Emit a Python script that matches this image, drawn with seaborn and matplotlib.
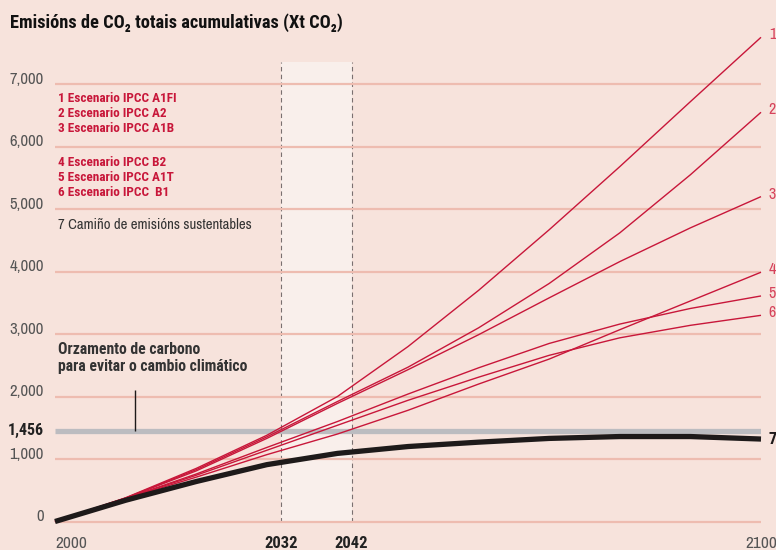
import matplotlib
matplotlib.use("Agg")
import matplotlib.pyplot as plt
import seaborn as sns
import pandas as pd

# ---- data (cumulative Gt CO2) ----
years = [2000, 2010, 2020, 2030, 2040, 2050, 2060, 2070, 2080, 2090, 2100]
a1fi = [0, 380, 850, 1380, 2000, 2800, 3700, 4670, 5680, 6720, 7750]
a2 = [0, 375, 830, 1355, 1920, 2470, 3100, 3810, 4620, 5550, 6550]
a1b = [0, 375, 810, 1330, 1890, 2430, 2990, 3580, 4160, 4700, 5200]
b2 = [0, 365, 710, 1070, 1400, 1780, 2200, 2600, 3070, 3530, 3990]
a1t = [0, 370, 760, 1185, 1600, 2040, 2460, 2850, 3160, 3410, 3610]
b1 = [0, 368, 740, 1140, 1540, 1940, 2310, 2660, 2940, 3140, 3300]
sustainable = [0, 340, 640, 910, 1090, 1200, 1270, 1330, 1360, 1360, 1320]

series_names = ["1", "2", "3", "4", "5", "6", "7"]
series_values = [a1fi, a2, a1b, b2, a1t, b1, sustainable]

legend_red = ["1 Escenario IPCC A1FI", "2 Escenario IPCC A2", "3 Escenario IPCC A1B",
              "4 Escenario IPCC B2", "5 Escenario IPCC A1T", "6 Escenario IPCC  B1"]
legend_black = "7 Camiño de emisións sustentables"
budget = 1456
budget_label = "Orzamento de carbono\npara evitar o cambio climático"
ytick_values = [0, 1000, 2000, 3000, 4000, 5000, 6000, 7000]
ytick_labels = ["0", "1,000", "2,000", "3,000", "4,000", "5,000", "6,000", "7,000"]
xtick_values = [2000, 2032, 2042, 2100]
xtick_labels = ["2000", "2032", "2042", "2100"]
title = "Emisións de CO₂ totais acumulativas (Xt CO₂)"

# ---- style ----
sns.set_style("white")
FAM = ["Archivo Narrow", "Roboto Condensed", "Liberation Sans", "DejaVu Sans"]
FAM_B = ["Roboto Condensed", "Liberation Sans", "DejaVu Sans"]
plt.rcParams["font.family"] = FAM

BG = "#f7e3dc"
BAND = "#f9efeb"
GRID = "#eebcb0"
RED = "#c8173a"
LBLRED = "#d6435c"
BLACK = "#1e1a1a"
GRAY = "#bcbcc0"

rows = []
for name, vals in zip(series_names, series_values):
    for y, v in zip(years, vals):
        rows.append({"year": y, "value": v, "series": name})
df = pd.DataFrame(rows)

fig = plt.figure(figsize=(7.76, 5.5), dpi=100, facecolor=BG)
ax = fig.add_axes([55 / 776, 0, 706 / 776, 1])
ax.set_facecolor(BG)
ax.set_xlim(2000, 2100)
ax.set_ylim(-456, 8347)
for s in ax.spines.values():
    s.set_visible(False)
ax.set_xticks([])
ax.set_yticks([])

# shaded period and dashed markers
ax.fill_between([2032, 2042], 0, 7360, color=BAND, lw=0, zorder=0)
ax.vlines([2032, 2042], 0, 7360, colors="#7a7070", linestyles=(0, (4, 3)), lw=0.8, zorder=1)

# gridlines
ax.hlines(ytick_values, 2000, 2100, colors=GRID, lw=1.6, zorder=1)

# budget band
ax.hlines([budget], 2000, 2100, colors=GRAY, lw=3.8, zorder=2)

palette = {n: RED for n in series_names[:6]}
palette["7"] = BLACK
sizes = {n: 1.0 for n in series_names[:6]}
sizes["7"] = 3.8
sns.lineplot(data=df, x="year", y="value", hue="series", size="series",
             palette=palette, sizes=sizes, legend=False, ax=ax, zorder=3,
             estimator=None, sort=True)
for ln in ax.get_lines():
    ln.set_clip_on(False)
    ln.set_solid_capstyle("butt")
    ln.set_solid_joinstyle("round")
ax.set_xlabel("")
ax.set_ylabel("")

# y tick labels
for v, lab in zip(ytick_values, ytick_labels):
    ax.text(2000 - 11 / 7.06, v + 80, lab, ha="right", va="center",
            fontsize=12, color="#555555")
ax.text(2000 - 11 / 7.06, budget, "1,456", ha="right", va="center",
        fontsize=11.5, color="#222222", fontweight="bold", family=FAM_B)

# x tick labels
for v, lab in zip(xtick_values, xtick_labels):
    bold = lab in ("2032", "2042")
    ha = "left" if lab == "2000" else "center"
    ax.text(v, -350, lab, ha=ha, va="center", fontsize=12 if bold else 12.5,
            color="#222222" if bold else "#555555",
            fontweight="bold" if bold else "normal",
            family=FAM_B if bold else FAM)

# end labels
for name, vals in zip(series_names, series_values):
    if name == "7":
        ax.text(2101.1, vals[-1], name, ha="left", va="center", fontsize=11.5,
                color=BLACK, fontweight="bold", family=FAM_B)
    else:
        ax.text(2101.1, vals[-1] + 40, name, ha="left", va="center", fontsize=11.5,
                color=LBLRED)

# legend text
ly = [6770, 6530, 6290, 5745, 5505, 5265]
for t, y in zip(legend_red, ly):
    ax.text(2000.4, y, t, ha="left", va="center", fontsize=9.5, color=RED,
            fontweight="bold", family=FAM_B)
ax.text(2000.4, 4740, legend_black, ha="left", va="center", fontsize=10.6,
        color="#333333")

# budget annotation
ax.text(2000.4, 2620, budget_label, ha="left", va="center", fontsize=11.3,
        color="#333333", fontweight="bold", family=FAM_B, linespacing=1.15)
ax.vlines([2011.3], budget, 2110, colors=BLACK, lw=1.0, zorder=3)

# title
fig.text(10 / 776, 1 - 23 / 550, title, ha="left", va="center", fontsize=13.2,
         fontweight="bold", color="#111111", family=FAM_B)

fig.savefig("out.png", dpi=100, facecolor=BG)
